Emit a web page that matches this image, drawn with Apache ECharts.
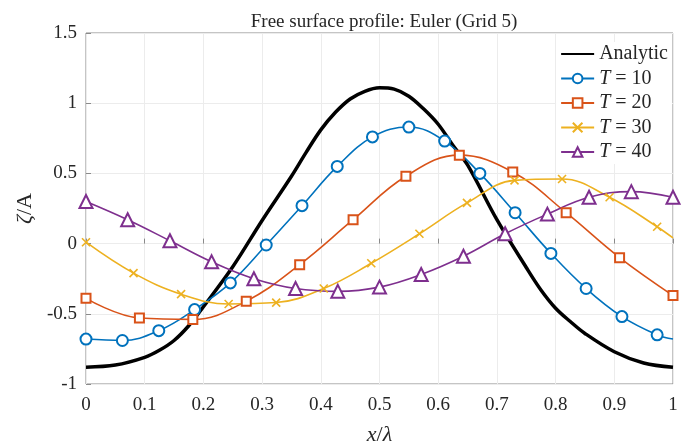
<!DOCTYPE html>
<html>
<head>
<meta charset="utf-8">
<script src="https://cdn.jsdelivr.net/npm/echarts@6/dist/echarts.min.js"></script>
<style>
html,body{margin:0;padding:0;background:#fff;}
#main{width:689px;height:445px;}
</style>
</head>
<body>
<div id="main"></div>
<script>
// analytic profile
var anaX = [0,0.05,0.1,0.125,0.15,0.175,0.2,0.25,0.3,0.35,0.375,0.4,0.425,0.45,0.475,0.5,0.525,0.55,0.575,0.6,0.625,0.65,0.7,0.75,0.775,0.8,0.825,0.85,0.9,0.95,1];
var anaY = [-0.88,-0.865,-0.81,-0.76,-0.69,-0.585,-0.45,-0.165,0.165,0.48,0.65,0.81,0.935,1.03,1.085,1.11,1.1,1.05,0.96,0.85,0.7,0.56,0.17,-0.17,-0.33,-0.46,-0.555,-0.64,-0.77,-0.85,-0.88];
// T = 10
var t10X = [0,0.062,0.124,0.185,0.246,0.307,0.368,0.428,0.488,0.55,0.611,0.671,0.731,0.792,0.852,0.913,0.973,1];
var t10Y = [-0.68,-0.69,-0.62,-0.47,-0.28,-0.01,0.27,0.55,0.76,0.83,0.73,0.5,0.22,-0.07,-0.32,-0.52,-0.65,-0.68];
// T = 20
var t20X = [0,0.091,0.182,0.273,0.364,0.455,0.545,0.636,0.727,0.818,0.909,1];
var t20Y = [-0.39,-0.53,-0.54,-0.41,-0.15,0.17,0.48,0.63,0.51,0.22,-0.1,-0.37];
// T = 30
var t30X = [0,0.081,0.162,0.243,0.324,0.405,0.486,0.568,0.649,0.73,0.811,0.892,0.973,1];
var t30Y = [0.01,-0.21,-0.36,-0.43,-0.42,-0.32,-0.14,0.07,0.29,0.45,0.46,0.33,0.12,0.04];
// T = 40
var t40X = [0,0.071,0.143,0.214,0.286,0.357,0.429,0.5,0.571,0.643,0.714,0.786,0.857,0.929,1];
var t40Y = [0.3,0.17,0.02,-0.13,-0.25,-0.32,-0.34,-0.31,-0.22,-0.09,0.07,0.21,0.33,0.37,0.33];
var markCount = {t10: 17, t30: 13};

var serif = 'Liberation Serif';
var txt = '#262626';

function pairs(xs, ys, nMark){
	var out = [];
	for(var i=0;i<xs.length;i++){
		if(nMark != null && i >= nMark){
			out.push({value:[xs[i],ys[i]], symbol:'none'});
		}else{
			out.push([xs[i],ys[i]]);
		}
	}
	return out;
};

var chart = echarts.init(document.getElementById('main'));
var option = {
	animation: false,
	title: {
		text: 'Free surface profile: Euler (Grid 5)',
		left: 379, top: 8, textAlign: 'center',
		textStyle: {fontFamily: serif, fontSize: 19, fontWeight: 'normal', color: txt}
	},
	grid: {
		left: 86, right: 16, top: 33, bottom: 61,
		outerBoundsMode: 'none', containLabel: false,
		show: true, borderColor: '#8a8a8a', borderWidth: 1, backgroundColor: '#fff'
	},
	legend: {
		right: 17, top: 42, orient: 'vertical',
		itemWidth: 33, itemHeight: 12, itemGap: 4.5,
		backgroundColor: '#fff', padding: [2,4,2,4],
		textStyle: {
			fontFamily: serif, fontSize: 20, lineHeight: 20, color: txt,
			rich: {i: {fontFamily: serif, fontSize: 20, lineHeight: 20, fontStyle: 'italic', color: txt}}
		},
		formatter: function(name){
			if(name.charAt(0) == 'T') return '{i|T} ' + name.substring(2);
			return name;
		},
		data: [{name:'Analytic', itemStyle:{opacity:0}},'T = 10','T = 20','T = 30','T = 40']
	},
	xAxis: {
		type: 'value', min: 0, max: 1, interval: 0.1,
		name: '{i|x}/{i|λ}', nameLocation: 'middle', nameGap: 40,
		nameTextStyle: {fontFamily: serif, fontSize: 22, color: txt,
			rich: {i: {fontFamily: serif, fontSize: 22, fontStyle: 'italic', color: txt}}},
		axisLine: {show: false},
		axisTick: {show: true, inside: true, length: 5, lineStyle: {color: '#8a8a8a'}},
		axisLabel: {fontFamily: serif, fontSize: 19, color: txt, margin: 12},
		splitLine: {show: true, lineStyle: {color: '#ececec', width: 1}}
	},
	yAxis: {
		type: 'value', min: -1, max: 1.5, interval: 0.5,
		name: '{i|ζ}/A', nameLocation: 'middle', nameGap: 47, nameRotate: 90,
		nameTextStyle: {fontFamily: serif, fontSize: 22, color: txt,
			rich: {i: {fontFamily: serif, fontSize: 22, fontStyle: 'italic', color: txt}}},
		axisLine: {show: false},
		axisTick: {show: true, inside: true, length: 5, lineStyle: {color: '#8a8a8a'}},
		axisLabel: {fontFamily: serif, fontSize: 19, color: txt, margin: 9},
		splitLine: {show: true, lineStyle: {color: '#ececec', width: 1}}
	},
	series: [
		{
			name: 'Analytic', type: 'line', smooth: 0.35, symbol: 'none',
			lineStyle: {color: '#000', width: 3.5}, itemStyle: {color: '#000'},
			data: pairs(anaX, anaY), z: 2
		},
		{
			name: 'T = 10', type: 'line', smooth: 0.4, symbol: 'emptyCircle', symbolSize: 11,
			lineStyle: {color: '#0072BD', width: 1.6},
			itemStyle: {color: '#0072BD', borderColor: '#0072BD', borderWidth: 1.6},
			data: pairs(t10X, t10Y, markCount.t10), z: 3
		},
		{
			name: 'T = 20', type: 'line', smooth: 0.4, symbol: 'emptyRect', symbolSize: 9,
			lineStyle: {color: '#D95319', width: 1.6},
			itemStyle: {color: '#D95319', borderColor: '#D95319', borderWidth: 1.4},
			data: pairs(t20X, t20Y), z: 3
		},
		{
			name: 'T = 30', type: 'line', smooth: 0.4,
			symbol: 'path://M0,0L10,10M10,0L0,10', symbolSize: 8,
			lineStyle: {color: '#EDB120', width: 1.6},
			itemStyle: {color: 'none', borderColor: '#EDB120', borderWidth: 1.6},
			data: pairs(t30X, t30Y, markCount.t30), z: 3
		},
		{
			name: 'T = 40', type: 'line', smooth: 0.4, symbol: 'emptyTriangle', symbolSize: 13,
			lineStyle: {color: '#7E2F8E', width: 1.6},
			itemStyle: {color: '#7E2F8E', borderColor: '#7E2F8E', borderWidth: 1.6},
			data: pairs(t40X, t40Y), z: 3
		}
	]
};
chart.setOption(option);
</script>
</body>
</html>
